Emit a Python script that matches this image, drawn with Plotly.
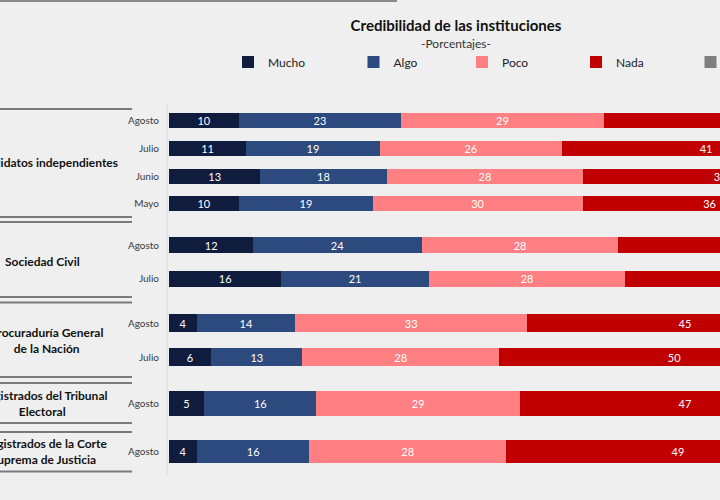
import plotly.graph_objects as go

# ---------------- data ----------------
groups = ["Candidatos independientes", "Sociedad Civil",
          "Procuraduría General<br>de la Nación",
          "Magistrados del Tribunal<br>Electoral",
          "Magistrados de la Corte<br>Suprema de Justicia"]
months = [["Agosto", "Julio", "Junio", "Mayo"], ["Agosto", "Julio"],
          ["Agosto", "Julio"], ["Agosto"], ["Agosto"]]
mucho = [[10, 11, 13, 10], [12, 16], [4, 6], [5], [4]]
algo = [[23, 19, 18, 19], [24, 21], [14, 13], [16], [16]]
poco = [[29, 26, 28, 30], [28, 28], [33, 28], [29], [28]]
nada = [[37, 41, 39, 36], [34, 33], [45, 50], [47], [49]]
nsnc = [[1, 3, 2, 5], [2, 2], [4, 3], [3], [3]]
series_names = ["Mucho", "Algo", "Poco", "Nada", "Ns/Nc"]
series_vals = [mucho, algo, poco, nada, nsnc]

title = "Credibilidad de las instituciones"
subtitle = "-Porcentajes-"

# ---------------- style / geometry ----------------
W, H = 720, 500
L = 169
PX_PER_UNIT = 7.02
colors = ["#0f1c3e", "#2d4a7e", "#ff7f82", "#c00000", "#7f7f7f"]
legend_widths = [80.5, 63.5, 69, 69.5, 40]
FONT = "Lato"
# panel pixel geometry: (top px, bottom px, bar thickness px)
panels = [(106.6, 217.9, 15), (228.3, 295.3, 16), (306.0, 374.0, 18),
          (383.0, 423.0, 25), (431.5, 471.5, 23)]
label_centers_px = [45, 42, 46, 42, 43]
divider_px = [[109], [217, 222], [297, 302.5], [377, 383], [423, 432], [471.5]]

plot_w = W - L
xmax = plot_w / PX_PER_UNIT


def py(px):
    return 1 - px / H


def px_x(px):
    return (px - L) / plot_w


fig = go.Figure()
layout = dict()

for k, (top, bot, bar_px) in enumerate(panels):
    n = len(months[k])
    unit = (bot - top) / n
    bw = bar_px / unit
    ax = "" if k == 0 else str(k + 1)
    for s, name in enumerate(series_names):
        vals = series_vals[s][k]
        fig.add_trace(go.Bar(
            y=months[k], x=vals, orientation="h", name=name,
            xaxis="x" + ax, yaxis="y" + ax,
            marker=dict(color=colors[s], line=dict(width=0)),
            width=bw, text=vals, textposition="inside",
            insidetextanchor="middle", textangle=0, constraintext="none",
            textfont=dict(color="white", size=11, family=FONT),
            legendgroup=name, showlegend=(k == 0),
            legendwidth=legend_widths[s],
            hovertemplate=name + ": %{x}<extra></extra>",
        ))
    layout["xaxis" + ax] = dict(domain=[0, 1], range=[0, xmax], visible=False,
                                anchor="y" + ax, fixedrange=True)
    layout["yaxis" + ax] = dict(domain=[py(bot), py(top)], type="category",
                                range=[n - 0.5, -0.5], anchor="x" + ax,
                                showgrid=False, zeroline=False, showline=False,
                                ticks="", ticklabelstandoff=9,
                                tickfont=dict(size=10, color="#3a3a3a", family=FONT),
                                fixedrange=True)

shapes = []
for grp in divider_px:
    for ypx in grp:
        shapes.append(dict(type="line", xref="paper", yref="paper",
                           x0=px_x(0), x1=px_x(132), y0=py(ypx), y1=py(ypx),
                           line=dict(color="#7a7a7a", width=2)))
shapes.append(dict(type="line", xref="paper", yref="paper",
                   x0=px_x(167), x1=px_x(167), y0=py(476), y1=py(104),
                   line=dict(color="#dddddd", width=1)))
shapes.append(dict(type="line", xref="paper", yref="paper",
                   x0=px_x(0), x1=px_x(397), y0=py(1), y1=py(1),
                   line=dict(color="#8a8a8a", width=2)))

annotations = [dict(text=subtitle, xref="paper", yref="paper",
                    x=px_x(456), y=py(44), xanchor="center", yanchor="middle",
                    showarrow=False, font=dict(size=12, color="#333333", family=FONT))]
for k, g in enumerate(groups):
    ax = "" if k == 0 else str(k + 1)
    annotations.append(dict(text="<b>" + g + "</b>", xref="paper", yref="y" + ax + " domain",
                            x=px_x(label_centers_px[k]), y=0.5, xanchor="center",
                            yanchor="middle", align="center", showarrow=False,
                            font=dict(size=12, color="#111111", family=FONT)))

fig.update_layout(
    **layout,
    width=W, height=H,
    barmode="stack",
    margin=dict(l=L, r=0, t=0, b=0, pad=0, autoexpand=False),
    paper_bgcolor="#efefef", plot_bgcolor="#efefef",
    title=dict(text="<b>" + title + "</b>", xref="container", yref="container",
               x=456 / W, y=py(26), xanchor="center", yanchor="middle",
               font=dict(size=15, color="#111111", family=FONT)),
    legend=dict(orientation="h", x=px_x(228), xanchor="left", y=py(62),
                yanchor="middle", bgcolor="rgba(0,0,0,0)", itemwidth=30,
                font=dict(size=12, color="#222222", family=FONT),
                traceorder="normal"),
    shapes=shapes, annotations=annotations,
    showlegend=True,
)

fig.write_html("out.html")
